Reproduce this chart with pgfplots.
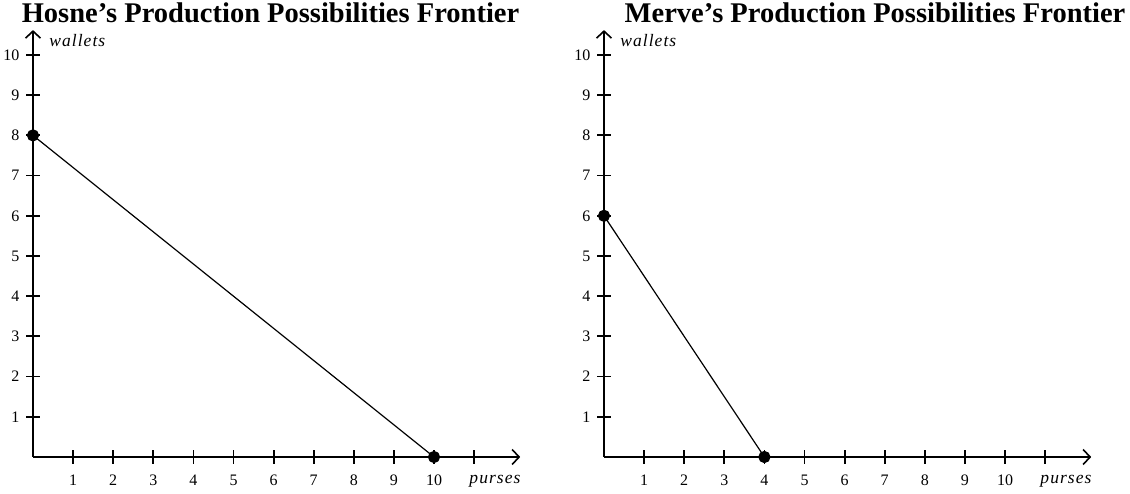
\documentclass[border=0pt]{standalone}
\usepackage{fontspec}
\setmainfont{Liberation Serif}
\newfontfamily\lblfont[LetterSpace=6]{Liberation Serif}
\usepackage{pgfplots}
\pgfplotsset{compat=1.18}
\usetikzlibrary{arrows.meta}
\begin{document}
\begin{tikzpicture}
\useasboundingbox (0pt,0pt) rectangle (1130pt,494pt);
\pgfplotsset{ppf/.style={
  anchor=origin, x=40.1pt, y=40.2pt, xmin=0, xmax=12.15, ymin=0, ymax=10.62,
  axis lines=left,
  axis line style={line width=1.8pt, -{Straight Barb[length=7pt,width=15pt,line width=1.6pt]}},
  tick align=center, major tick length=14pt,
  every tick/.style={line width=1.8pt, black},
  xtick={1,...,11}, xticklabels={1,2,3,4,5,6,7,8,9,10,},
  ytick={1,...,10},
  ticklabel style={font=\fontsize{16}{16}\selectfont},
  xticklabel style={yshift=-7pt},
  yticklabel style={xshift=-3pt},
  /pgf/number format/assume math mode=true,
  clip=false,
}}
\begin{axis}[ppf, at={(33pt,37pt)}]
\addplot[black, line width=1.2pt, mark=*, mark size=5.5pt] coordinates {(0,8) (10,0)};
\node[font=\lblfont\itshape\fontsize{17.5}{17.5}\selectfont, anchor=base west] at (axis cs:0.32,10.22) {wallets};
\node[font=\lblfont\itshape\fontsize{17.5}{17.5}\selectfont, anchor=base] at (axis cs:11.52,-0.647) {purses};
\end{axis}
\begin{axis}[ppf, at={(604pt,37pt)}]
\addplot[black, line width=1.2pt, mark=*, mark size=5.5pt] coordinates {(0,6) (4,0)};
\node[font=\lblfont\itshape\fontsize{17.5}{17.5}\selectfont, anchor=base west] at (axis cs:0.32,10.22) {wallets};
\node[font=\lblfont\itshape\fontsize{17.5}{17.5}\selectfont, anchor=base] at (axis cs:11.52,-0.647) {purses};
\end{axis}
\node[font=\bfseries\fontsize{28.5}{28.5}\selectfont, anchor=base] at (270.5pt,471pt) {Hosne’s Production Possibilities Frontier};
\node[font=\bfseries\fontsize{28.5}{28.5}\selectfont, anchor=base] at (875pt,471pt) {Merve’s Production Possibilities Frontier};
\end{tikzpicture}
\end{document}
